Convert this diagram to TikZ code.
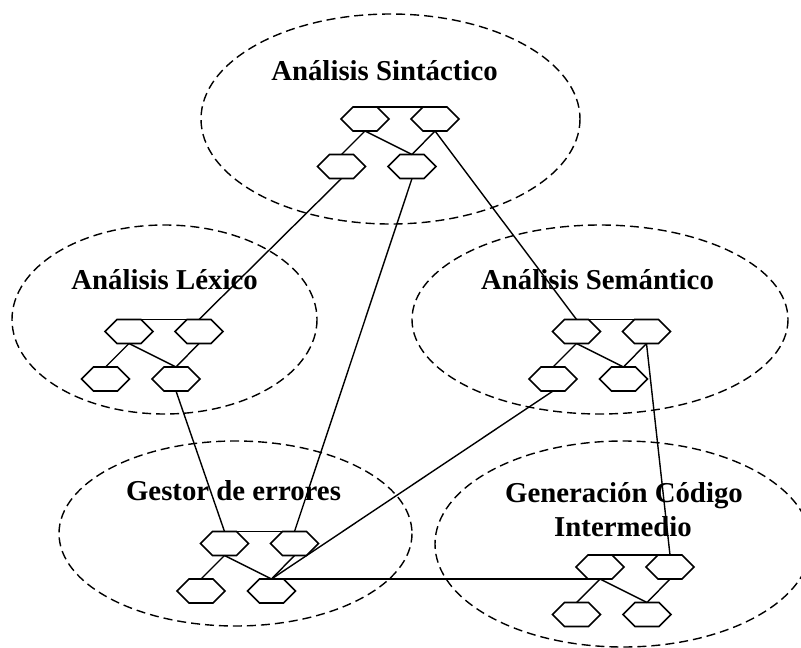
\documentclass[tikz,border=0pt]{standalone}
\usepackage{fontspec}
\setmainfont{Liberation Serif}
\begin{document}
\begin{tikzpicture}[x=1pt,y=-1pt,
  hexcell/.style={minimum width=48pt,minimum height=24pt,inner sep=0pt,outer sep=0pt},
  hexline/.style={line width=1.6pt,line join=miter},
  link/.style={line width=1.4pt},
  zone/.style={line width=1.4pt,dash pattern=on 9pt off 5pt},
  zonetitle/.style={font=\bfseries\fontsize{28.8}{34}\selectfont,inner sep=0pt,align=center}]
\useasboundingbox (0,0) rectangle (801,648);

% one flat-topped hexagon, named #1, centred at (#2,#3)
\newcommand{\hexcellat}[3]{%
  \node[hexcell] (#1) at (#2,#3) {};
  \draw[hexline] (#1.west) -- ([xshift=12pt]#1.north west) -- ([xshift=-12pt]#1.north east)
    -- (#1.east) -- ([xshift=-12pt]#1.south east) -- ([xshift=12pt]#1.south west) -- cycle;}

% a small tree of four hexagons; (#2,#3) is the centre of the upper left one
\newcommand{\hextree}[3]{%
  \hexcellat{#1-a}{#2}{#3}
  \hexcellat{#1-b}{#2+70}{#3}
  \hexcellat{#1-c}{#2-23.5}{#3+47.5}
  \hexcellat{#1-d}{#2+47}{#3+47.5}
  \draw[hexline] ([xshift=12pt]#1-a.north west) -- ([xshift=-12pt]#1-b.north east);
  \draw[link] (#1-a.south) -- (#1-c.north);
  \draw[link] (#1-a.south) -- (#1-d.north);
  \draw[link] (#1-b.south) -- (#1-d.north);}

% dashed zones
\draw[zone] (390.5,119) ellipse [x radius=189.5,y radius=105];
\draw[zone] (164.5,319.5) ellipse [x radius=152.5,y radius=94.5];
\draw[zone] (600,319.5) ellipse [x radius=188,y radius=94.5];
\draw[zone] (235.5,533.5) ellipse [x radius=176.5,y radius=92.5];
\draw[zone] (623,544) ellipse [x radius=188,y radius=103];

% zone titles
\node[zonetitle,anchor=base] (tsin) at (384.5,80) {Análisis Sintáctico};
\node[zonetitle,anchor=base] (tlex) at (164.5,289) {Análisis Léxico};
\node[zonetitle,anchor=base] (tsem) at (597.5,289) {Análisis Semántico};
\node[zonetitle,anchor=base] (tges) at (233.5,500.5) {Gestor de errores};
\node[zonetitle,anchor=base] (tgen1) at (624,502.5) {Generación Código};
\node[zonetitle,anchor=base] (tgen2) at (623,536.5) {Intermedio};

% hexagon trees
\hextree{sin}{365}{119}
\hextree{lex}{129}{331.5}
\hextree{sem}{576.5}{331.5}
\hextree{ges}{224.5}{543.5}
\hextree{gen}{600}{567}

% links between the zones
\draw[link] (sin-c.south) -- (lex-b.north);
\draw[link] (sin-d.south) -- (ges-b.north);
\draw[link] (sin-b.south) -- (sem-a.north);
\draw[link] (lex-d.south) -- (ges-a.north);
\draw[link] (sem-c.south) -- (ges-d.north);
\draw[link] (ges-d.north) -- (gen-a.south);
\draw[link] (sem-b.south) -- (gen-b.north);
\end{tikzpicture}
\end{document}
